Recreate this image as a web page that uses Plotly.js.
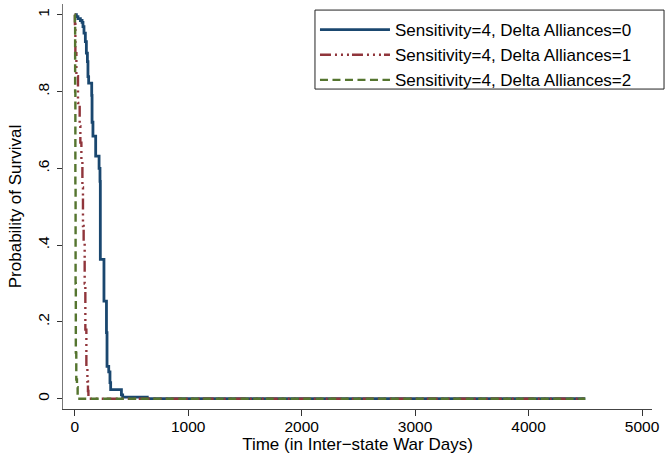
<!DOCTYPE html>
<html>
<head>
<meta charset="utf-8">
<script src="https://cdn.plot.ly/plotly-3.0.1.min.js"></script>
<style>html,body{margin:0;padding:0;background:#fff;}#chart{width:666px;height:461px;}</style>
</head>
<body>
<div id="chart"></div>
<script>
// Series names
const seriesNames = [
  "Sensitivity=4, Delta Alliances=0",
  "Sensitivity=4, Delta Alliances=1",
  "Sensitivity=4, Delta Alliances=2"
];

// Survival estimates (time in inter-state war days, probability of survival)
const timeDA0 = [0, 15, 29, 50, 65, 73, 82, 94, 103, 112, 117, 123, 150, 153, 161, 185, 215, 223, 226, 258, 280, 285, 300, 311, 317, 412, 423, 640, 4500];
const survDA0 = [1, 0.995, 0.99, 0.985, 0.98, 0.969, 0.952, 0.93, 0.90, 0.878, 0.839, 0.822, 0.79, 0.72, 0.684, 0.632, 0.60, 0.566, 0.363, 0.254, 0.172, 0.084, 0.07, 0.042, 0.0235, 0.01, 0.004, 0, 0];

const timeDA1 = [0, 2, 6, 15, 29, 44, 50, 59, 68, 73, 79, 88, 94, 103, 112, 117, 121, 4500];
const survDA1 = [1, 0.976, 0.9, 0.84, 0.77, 0.71, 0.667, 0.62, 0.55, 0.45, 0.41, 0.3, 0.18, 0.08, 0.045, 0.02, 0, 0];

const timeDA2 = [0, 2, 4, 6, 8, 10, 14, 20, 26, 4500];
const survDA2 = [1, 0.97, 0.8, 0.55, 0.3, 0.12, 0.05, 0.03, 0, 0];

// Axis ticks
const xTickVals = [0, 1000, 2000, 3000, 4000, 5000];
const xTickText = ["0", "1000", "2000", "3000", "4000", "5000"];
const yTickVals = [0, 0.2, 0.4, 0.6, 0.8, 1];
const yTickText = ["0", ".2", ".4", ".6", ".8", "1"];

const fontFam = "Liberation Sans, Arial, Helvetica, sans-serif";

const traces = [
  {x: timeDA0, y: survDA0, name: seriesNames[0], type: "scatter", mode: "lines",
   line: {shape: "hv", color: "#1a476f", width: 2.8}},
  {x: timeDA1, y: survDA1, name: seriesNames[1], type: "scatter", mode: "lines",
   line: {shape: "hv", color: "#90353b", width: 2.4, dash: "11px,4px,2px,4px,2px,4px,2px,3px"}},
  {x: timeDA2, y: survDA2, name: seriesNames[2], type: "scatter", mode: "lines",
   line: {shape: "hv", color: "#55752f", width: 2.4, dash: "8px,4.5px"}}
];

const layout = {
  width: 666, height: 461,
  margin: {l: 63, r: 14, t: 4, b: 52, pad: 0},
  paper_bgcolor: "#ffffff", plot_bgcolor: "#ffffff",
  font: {family: fontFam, color: "#000", size: 15},
  showlegend: true,
  legend: {
    x: 0.4278, y: 0.980, xanchor: "left", yanchor: "top",
    bgcolor: "rgba(255,255,255,0)", borderwidth: 0,
    font: {family: fontFam, size: 17, color: "#000"},
    itemwidth: 70, tracegroupgap: 0
  },
  shapes: [
    {type: "rect", xref: "paper", yref: "paper", x0: 0.4278, x1: 1.0204, y0: 0.790, y1: 0.985,
     line: {color: "#222", width: 1}, fillcolor: "rgba(0,0,0,0)", layer: "above"}
  ],
  xaxis: {
    range: [-103, 5088],
    tickvals: xTickVals, ticktext: xTickText,
    ticks: "outside", ticklen: 6, tickcolor: "#333", tickwidth: 1,
    showline: true, linecolor: "#444", linewidth: 1.3,
    showgrid: false, zeroline: false,
    tickfont: {size: 15.5},
    ticklabelstandoff: -3,
    title: {text: "Time (in Inter\u2212state War Days)", font: {size: 17}, standoff: 0}
  },
  yaxis: {
    range: [-0.0268, 1.028],
    tickvals: yTickVals, ticktext: yTickText, tickangle: -90,
    ticks: "outside", ticklen: 5, tickcolor: "#333", tickwidth: 1,
    showline: true, linecolor: "#777", linewidth: 1.3,
    showgrid: false, zeroline: false,
    tickfont: {size: 15.5},
    ticklabelstandoff: 2,
    title: {text: "Probability of Survival", font: {size: 17}, standoff: 8}
  }
};

Plotly.newPlot("chart", traces, layout, {staticPlot: true, displayModeBar: false});
</script>
</body>
</html>
